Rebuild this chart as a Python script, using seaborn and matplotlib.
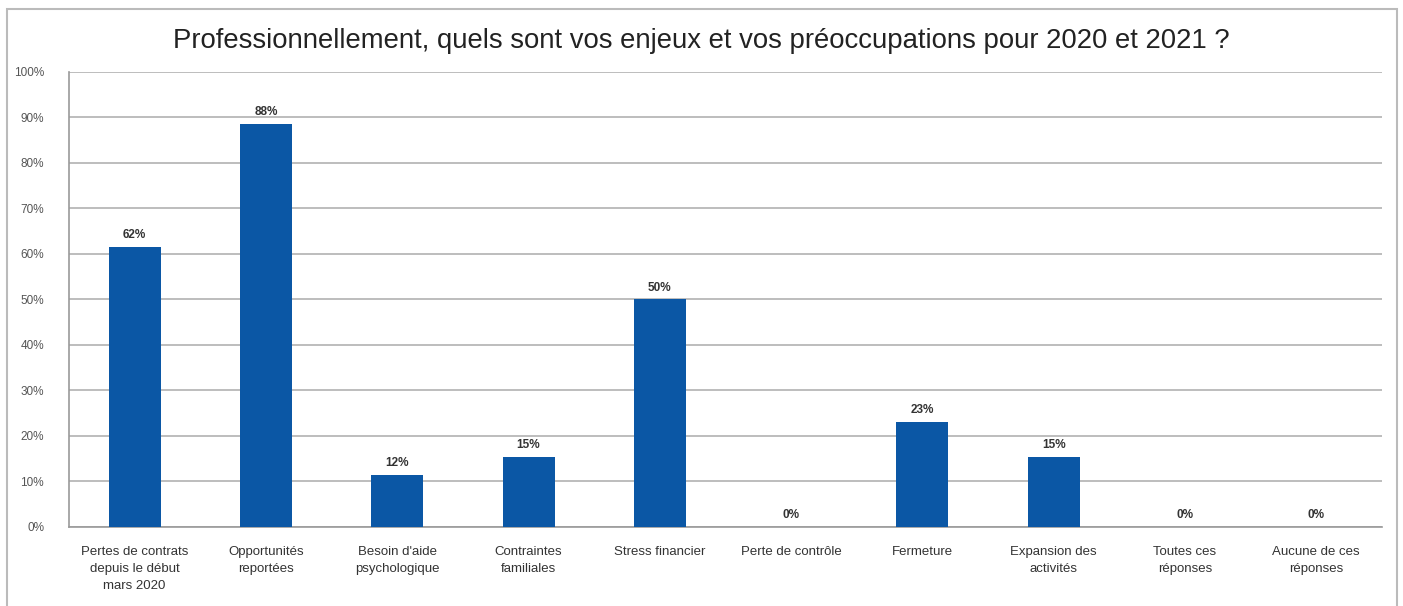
import numpy as np
import pandas as pd
import seaborn as sns
import matplotlib.pyplot as plt
from matplotlib.patches import Rectangle

# Data
categories = [
    'Pertes de contrats\ndepuis le début\nmars 2020', 'Opportunités\nreportées',
    'Besoin d\'aide\npsychologique', 'Contraintes\nfamiliales', 'Stress financier',
    'Perte de contrôle', 'Fermeture', 'Expansion des\nactivités',
    'Toutes ces\nréponses', 'Aucune de ces\nréponses'
]
values = [61.5, 88.5, 11.5, 15.4, 50.0, 0.0, 23.1, 15.4, 0.0, 0.0]
y_ticks = list(range(0, 101, 10))

BAR_COLOR = '#0B57A5'
TITLE = 'Professionnellement, quels sont vos enjeux et vos préoccupations pour 2020 et 2021 ?'

df = pd.DataFrame({'cat': categories, 'val': values})

sns.set_style('white')
plt.rcParams['font.family'] = ['Liberation Sans', 'DejaVu Sans']

fig = plt.figure(figsize=(14.03, 6.06), dpi=100)
ax = fig.add_axes([0.0492, 0.1304, 0.9358, 0.7508])

sns.barplot(data=df, x='cat', y='val', color=BAR_COLOR, width=0.396,
            saturation=1, linewidth=0, ax=ax, zorder=3)

# Value labels
for i, v in enumerate(values):
    ax.text(i, v + 1.3, f'{v:.0f}%', ha='center', va='bottom',
            fontsize=8.5, fontweight='bold', color='#333333')

ax.set_ylim(0, 100)
ax.set_xlim(-0.5, len(categories) - 0.5)
ax.set_yticks(y_ticks)
ax.set_yticklabels([f'{t}%' for t in y_ticks], fontsize=8.5, color='#555555')
ax.yaxis.grid(True, color='#B8B8B8', linewidth=1.3, zorder=0)
ax.set_axisbelow(True)

# Category ticks between bars
ax.set_xticks(np.arange(len(categories)))
ax.set_xticklabels(categories, fontsize=9.5, color='#333333', linespacing=1.55)
ax.set_xticks(np.arange(-0.5, len(categories)), minor=True)
ax.tick_params(axis='x', which='major', length=0, pad=14)
ax.tick_params(axis='x', which='minor', length=5, color='#999999', width=1)
ax.tick_params(axis='y', length=4, color='#999999', width=1, pad=14)

ax.set_xlabel('')
ax.set_ylabel('')
for side in ['top', 'right']:
    ax.spines[side].set_visible(False)
for side in ['left', 'bottom']:
    ax.spines[side].set_color('#999999')
    ax.spines[side].set_linewidth(1.2)

fig.text(0.5, 0.933, TITLE, ha='center', va='center', fontsize=19.8, color='#222222')

# Outer chart frame (bottom edge falls outside the image)
fig.patches.append(Rectangle((0.005, -0.05), 0.991, 1.035, transform=fig.transFigure,
                             fill=False, edgecolor='#BBBBBB', linewidth=1.5))

plt.savefig('out.png', dpi=100)
